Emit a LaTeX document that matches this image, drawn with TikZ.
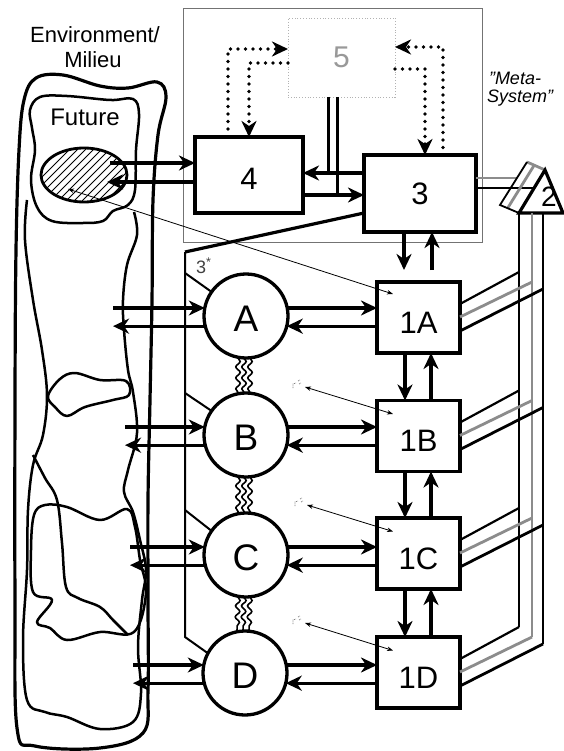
\documentclass[tikz,border=0pt]{standalone}
\usepackage{fontspec}
\setmainfont{Liberation Sans}
\usetikzlibrary{arrows.meta,shapes.geometric,decorations.pathmorphing,calc}
\begin{document}
\begin{tikzpicture}[x=1pt,y=-1pt,
  every node/.style={inner sep=0pt, outer sep=0pt},
  box/.style={draw, line width=3.5pt, fill=white, rectangle, font=\fontsize{31}{31}\selectfont},
  obox/.style={box, minimum width=83pt, minimum height=71pt, text height=31pt, text depth=0pt},
  circ/.style={draw, circle, line width=3.3pt, fill=white, minimum size=84pt, text height=30pt, text depth=0pt, font=\fontsize{37}{37}\selectfont},
  arr/.style={line width=3.1pt, -{Stealth[length=16pt,width=15pt,inset=5pt]}},
  dotarr/.style={line width=3.6pt, line cap=round, dash pattern=on 0pt off 7.5pt, -{Stealth[length=16pt,width=15pt,inset=5pt]}},
  thinarr/.style={line width=0.8pt, {Stealth[length=6pt,width=4.5pt]}-{Stealth[length=6pt,width=4.5pt]}},
  envthick/.style={line width=3.2pt, line join=round},
  envline/.style={line width=2.5pt, line join=round},
  gline/.style={draw=black!45, line width=2.8pt},
  wavy/.style={line width=1.6pt, decorate, decoration={snake, segment length=11pt, amplitude=2.2pt}},
  framel/.style={line width=2pt},
  scrib/.pic={\draw[black!50,line width=0.7pt,dash pattern=on 1pt off 0.7pt] (-5,3) -- (-5,-1) -- (-2,-2) (0,-4) -- (2,-5) (1,-1) -- (3,-2);},
]
\useasboundingbox (0,0) rectangle (563,751);

% meta-system frame
\node[draw=black!55, line width=0.8pt, minimum width=299pt, minimum height=234pt] (meta) at (332.5,125) {};

% environment
\draw[envthick] plot[smooth cycle, tension=0.6] coordinates {(24,100) (36,78) (63,75) (100,86) (128,88) (157,82) (166,97) (158,135) (153,200) (152,300) (150,400) (148,500) (148,600) (148,690) (143,733) (100,748) (35,746) (17,728) (15,600) (15,400) (16,250) (19,150)};
\draw[envline] plot[smooth cycle, tension=0.6] coordinates {(30,110) (40,97) (67,96) (110,100) (133,99) (139,114) (136,150) (135,190) (128,205) (113,211) (103,221) (83,223) (52,221) (37,207) (31,180) (35,150) (32,128)};
\draw[envline] plot[smooth, tension=0.6] coordinates {(27,200) (25,240) (33,300) (42,350) (47,395) (43,435) (33,465) (28,510) (27,570) (23,640) (27,700) (45,712) (67,717) (100,729) (133,722) (141,693) (138,647) (142,600) (146,570) (140,540) (133,512) (124,492) (128,470) (137,433) (133,392) (128,370) (124,330) (123,300) (127,265) (137,235) (134,212)};
\draw[envline] plot[smooth cycle, tension=0.6] coordinates {(48,396) (60,379) (75,373) (100,380) (126,381) (129,395) (113,400) (85,407) (67,416) (55,407)};
\draw[envline] plot[smooth cycle, tension=0.6] coordinates {(34,515) (45,505) (67,507) (100,520) (127,509) (135,527) (140,560) (146,593) (134,632) (100,632) (67,640) (50,628) (37,622) (52,600) (33,592) (31,550)};
\draw[envline] plot[smooth, tension=0.6] coordinates {(33,455) (45,478) (57,500) (62,543) (66,587) (78,598) (100,607) (113,620) (128,635)};

% hatched future ellipse
\node[ellipse, draw, line width=2.8pt, fill=white, minimum width=86pt, minimum height=54pt,
  path picture={\foreach \i in {-80,-72,...,80} \draw[line width=0.8pt] ([shift={(\i pt,-40pt)}]path picture bounding box.center) -- ++(80pt,80pt);}] (fut) at (84,175) {};

% texts
\node[font=\fontsize{22}{22}\selectfont, anchor=base] (envt) at (95,43) {Environment/};
\node[font=\fontsize{22}{22}\selectfont, anchor=base] (milt) at (93,68) {Milieu};
\node[font=\fontsize{24}{24}\selectfont, anchor=base] (futt) at (85,126) {Future};
\node[font=\fontsize{18}{18}\selectfont\itshape, anchor=base west] (ms1) at (489,85) {"Meta-};
\node[font=\fontsize{18}{18}\selectfont\itshape, anchor=base west] (ms2) at (487,103) {System"};
\node[font=\fontsize{18}{18}\selectfont, text=black!75, anchor=base west] (s3t) at (196,273) {3\textsuperscript{*}};

% main boxes
\node[draw=black!30, dotted, line width=0.8pt, fill=white, minimum width=107pt, minimum height=79pt, text=black!40, font=\fontsize{30}{30}\selectfont] (b5) at (341.5,57.5) {5};
\node[box, minimum width=108pt, minimum height=76pt, text height=29.5pt, text depth=0pt] (b4) at (249,175) {4};
\node[box, minimum width=112pt, minimum height=77pt] (b3) at (420,193.5) {3};

% frame round the operations
\node[draw=black!60, double=white, double distance=1.2pt, line width=0.8pt, minimum width=110pt, minimum height=449pt] (f1) at (418,494.5) {};

% operation boxes and management circles
\node[obox] (b1A) at (418.5,317.5) {1A};
\node[obox] (b1B) at (418.5,436) {1B};
\node[obox] (b1C) at (418.5,553.5) {1C};
\node[obox] (b1D) at (418.5,672.5) {1D};
\node[circ] (cA) at (246,316) {A};
\node[circ] (cB) at (246,435) {B};
\node[circ] (cC) at (246,555) {C};
\node[circ] (cD) at (245,673) {D};

% 4 <-> 3 and the channel from 5
\draw[line width=3pt] ([xshift=-13.5pt]b5.south) -- ([xshift=-13.5pt]b5.south |- 0,173);
\draw[line width=3pt] ([xshift=-4.5pt]b5.south) -- ([xshift=-4.5pt]b5.south |- 0,195);
\draw[arr] (b3.west |- 0,173) -- (b4.east |- 0,173);
\draw[arr] (b4.east |- 0,195) -- (b3.west |- 0,195);

% dotted links with 5
\draw[dotarr] ([xshift=-21pt,yshift=8pt]b4.north) |- (b5.west |- 0,49);
\draw[dotarr] (b5.west |- 0,63) -| (b4.north);
\draw[dotarr] ([xshift=23pt]b3.north) |- (b5.east |- 0,47);
\draw[dotarr] (b5.east |- 0,69) -| ([xshift=5pt]b3.north);

% future <-> 4
\coordinate (e1) at (110,163);
\coordinate (e2) at (107,182);
\draw[arr] (e1) -- (b4.west |- e1);
\draw[arr] (b4.west |- e2) -- (e2);

% 3 <-> operations
\draw[arr] ([xshift=-16pt]b3.south) -- ([xshift=-16pt]b3.south |- f1.north);
\draw[arr] ([xshift=12pt]b3.south |- f1.north) -- ([xshift=12pt]b3.south);

% between operation boxes
\foreach \a/\b in {b1A/b1B,b1B/b1C,b1C/b1D}{
  \draw[arr] ([xshift=-13.5pt]\a.south) -- ([xshift=-13.5pt]\b.north);
  \draw[arr] ([xshift=12.5pt]\b.north) -- ([xshift=12.5pt]\a.south);
}

% circles <-> boxes
\foreach \c/\b in {cA/b1A,cB/b1B,cC/b1C,cD/b1D}{
  \draw[arr] (\c.11) -- (\c.11 -| \b.west);
  \draw[arr] (\b.west |- \c.-14) -- (\c.-14);
}

% environment <-> circles
\coordinate (eA) at (113,316);
\coordinate (eB) at (125,435);
\coordinate (eC) at (130,555);
\coordinate (eD) at (133,673);
\foreach \c/\e in {cA/eA,cB/eB,cC/eC,cD/eD}{
  \draw[arr] (\e |- \c.169) -- (\c.169);
  \draw[arr] (\c.-166) -- (\e |- \c.-166);
}

% 3* audit channel
\coordinate (s0) at (185,252);
\coordinate (s1) at (185,637);
\coordinate (sA) at (185,273);
\coordinate (sB) at (185,393);
\coordinate (sC) at (185,510);
\draw[line width=3.2pt] (b3.west |- 0,213) -- (s0);
\draw[framel] (s0) -- (s1) -- (cD.152);
\draw[framel] (sA) -- (cA.145);
\draw[framel] (sB) -- (cB.145);
\draw[framel] (sC) -- (cC.145);

% wavy links between circles
\foreach \a/\b in {cA/cB,cB/cC,cC/cD}{
  \foreach \dx in {-8,-2,4}{
    \draw[wavy] ([xshift=\dx pt]\a.south) -- ([xshift=\dx pt]\b.north);
  }
}

% system 2 prism
\coordinate (pa) at (545,170);
\coordinate (pl) at (519,213);
\coordinate (pr) at (563,213);
\coordinate (qa) at (527,162);
\coordinate (ql) at (500,205);
\draw[gline] (b3.east |- 0,178) -- (517,178);
\draw[line width=2.6pt] (b3.east |- 0,188) -- (534,188);
\draw[gline] (qa) -- (pa);
\draw[gline] ($(qa)!0.4!(pa)$) -- ($(ql)!0.4!(pl)$);
\draw[line width=1.8pt] (qa) -- (ql) -- (pl);
\draw[line width=3.2pt, fill=white, line join=miter] (pa) -- (pl) -- (pr) -- cycle;
\node[font=\fontsize{28}{28}\selectfont] (t2) at (549,197) {2};

% vertical anti-oscillation channels
\draw[line width=2.6pt] (pl) -- ($(b1D.east)+(59,-45.5)$);
\draw[gline] (532,213) -- ($(b1D.east)+(72,-35.5)$);
\draw[line width=2.6pt] (543,213) -- ($(b1D.east)+(83,-28.5)$);
\foreach \b in {b1A,b1B,b1C,b1D}{
  \draw[line width=2.2pt] ([yshift=13.5pt]\b.east) -- ++(59,-32);
  \draw[gline] ([yshift=0.5pt]\b.east) -- ++(72,-35);
  \draw[line width=2.8pt] ([yshift=-13.5pt]\b.east) -- ++(83,-42);
}

% thin links of the future models
\coordinate (fA) at (68,189);
\coordinate (rB) at (305,387);
\coordinate (rC) at (307,505);
\coordinate (rD) at (305,623);
\draw[thinarr] (fA) -- ([shift={(-25.5,-23.5)}]b1A.center);
\draw[thinarr] (rB) -- ([shift={(-25.5,-22)}]b1B.center);
\draw[thinarr] (rC) -- ([shift={(-25.5,-22)}]b1C.center);
\draw[thinarr] (rD) -- ([shift={(-25.5,-22)}]b1D.center);
\pic at (298,385) {scrib};
\pic at (300,503) {scrib};
\pic at (298,621) {scrib};
\end{tikzpicture}
\end{document}
